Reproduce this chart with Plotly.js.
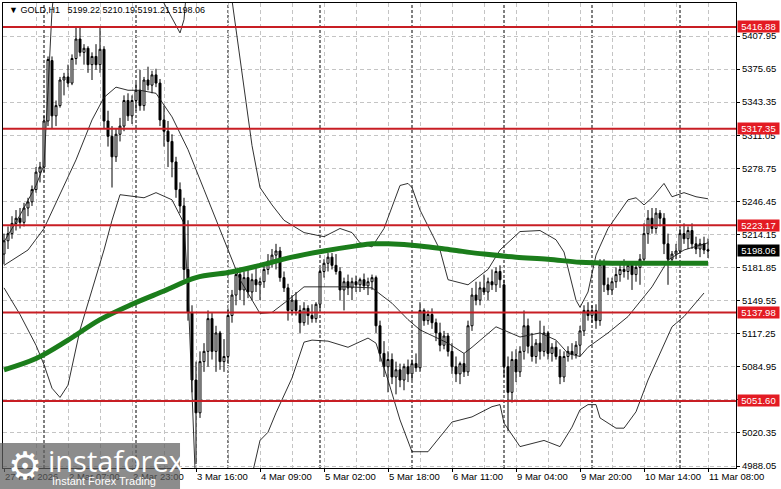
<!DOCTYPE html>
<html><head><meta charset="utf-8">
<script src="https://cdn.plot.ly/plotly-3.0.1.min.js"></script>
<style>html,body{margin:0;padding:0;background:#fff}#chart{width:781px;height:489px}</style>
</head><body><div id="chart"></div>
<script>
// ---- candle data (GOLD, H1), one entry per bar ----
const openP = [5195,5208,5215,5225,5230,5226,5240,5246,5258,5275,5280,5325,5384,5330,5340,5365,5368,5362,5386,5405,
5392,5396,5380,5388,5380,5395,5325,5310,5290,5312,5320,5345,5330,5345,5355,5340,5365,5360,5370,5362,
5326,5315,5305,5285,5258,5242,5180,5138,5072,5040,5090,5100,5132,5100,5118,5090,5095,5135,5155,5175,
5160,5172,5158,5170,5165,5168,5180,5188,5194,5198,5172,5162,5140,5150,5140,5128,5142,5135,5132,5146,
5178,5186,5192,5184,5178,5160,5168,5162,5168,5165,5170,5164,5168,5172,5125,5098,5085,5092,5075,5082,
5072,5085,5078,5088,5084,5140,5130,5136,5128,5118,5106,5115,5100,5085,5078,5088,5080,5125,5155,5150,
5162,5158,5168,5165,5178,5165,5085,5060,5092,5080,5100,5125,5105,5095,5108,5100,5118,5098,5104,5095,
5075,5095,5100,5097,5106,5120,5140,5135,5140,5130,5185,5165,5160,5168,5175,5180,5178,5184,5175,5182,
5190,5215,5230,5220,5235,5230,5205,5190,5195,5198,5215,5210,5218,5205,5200,5205,5199.22];
const highP = [5215,5222,5232,5238,5240,5245,5250,5262,5280,5285,5330,5388,5388,5345,5368,5372,5380,5390,5417,5416,
5400,5398,5392,5400,5417,5398,5335,5320,5318,5328,5350,5352,5350,5362,5375,5368,5378,5374,5376,5366,
5340,5325,5312,5290,5265,5250,5228,5145,5090,5100,5108,5140,5138,5125,5120,5112,5142,5160,5180,5182,
5178,5180,5176,5182,5172,5185,5195,5200,5205,5202,5178,5166,5155,5158,5145,5148,5145,5146,5148,5182,
5190,5196,5196,5195,5182,5172,5175,5172,5174,5172,5176,5172,5175,5174,5130,5110,5100,5098,5090,5088,
5088,5092,5092,5098,5148,5142,5140,5142,5132,5128,5120,5118,5108,5095,5090,5098,5130,5162,5168,5168,
5175,5172,5180,5182,5184,5170,5095,5100,5102,5105,5140,5132,5118,5112,5130,5125,5120,5108,5110,5102,
5100,5105,5108,5110,5125,5145,5148,5145,5146,5190,5190,5172,5172,5182,5185,5190,5188,5188,5185,5195,
5225,5238,5240,5240,5238,5235,5215,5198,5205,5220,5225,5222,5225,5212,5210,5212,5210.19];
const lowP = [5185,5200,5210,5218,5220,5222,5232,5242,5255,5265,5275,5320,5318,5320,5338,5350,5358,5360,5380,5388,
5380,5372,5365,5375,5372,5318,5300,5260,5285,5305,5315,5325,5322,5335,5335,5335,5355,5352,5358,5320,
5300,5280,5270,5250,5235,5170,5130,5060,4990,5035,5080,5085,5092,5080,5082,5080,5088,5128,5145,5150,
5145,5152,5150,5158,5150,5162,5175,5182,5180,5168,5158,5130,5135,5135,5118,5125,5126,5128,5128,5140,
5172,5178,5180,5175,5150,5140,5155,5150,5158,5158,5160,5155,5160,5118,5090,5075,5060,5068,5058,5065,
5062,5070,5072,5080,5080,5125,5126,5122,5110,5100,5102,5095,5078,5070,5068,5075,5076,5120,5145,5145,
5155,5150,5160,5158,5162,5075,5022,5050,5070,5075,5092,5098,5090,5088,5092,5095,5092,5090,5092,5068,
5070,5090,5092,5093,5095,5115,5130,5128,5122,5125,5158,5155,5155,5162,5168,5172,5170,5160,5168,5165,
5185,5205,5215,5215,5222,5195,5165,5185,5190,5195,5205,5200,5200,5195,5192,5195,5191.21];
const closeP = [5208,5215,5225,5230,5226,5240,5246,5258,5275,5280,5325,5385,5330,5340,5365,5368,5362,5386,5405,5392,
5396,5380,5388,5380,5395,5325,5310,5290,5312,5320,5345,5330,5345,5355,5340,5365,5360,5370,5362,5326,
5315,5305,5285,5258,5242,5180,5138,5072,5040,5090,5100,5132,5100,5118,5090,5095,5135,5155,5175,5160,
5172,5158,5170,5165,5168,5180,5188,5194,5198,5172,5162,5140,5150,5140,5128,5142,5135,5132,5146,5178,
5186,5192,5184,5178,5160,5168,5162,5168,5165,5170,5164,5168,5172,5125,5098,5085,5092,5075,5082,5072,
5085,5078,5088,5084,5140,5130,5136,5128,5118,5106,5115,5100,5085,5078,5088,5080,5125,5155,5150,5162,
5158,5168,5165,5178,5170,5085,5060,5092,5080,5100,5125,5105,5095,5108,5100,5118,5098,5104,5095,5075,
5095,5100,5097,5106,5120,5140,5135,5140,5130,5185,5165,5160,5168,5175,5180,5178,5184,5175,5182,5190,
5215,5230,5220,5235,5230,5205,5190,5195,5198,5215,5210,5218,5205,5200,5205,5199,5198.06];

const bbUpperIdx = [0,4,8,10,11,12,13,20,30,39,40,42,44,45,46,50,55,57,58,60,62,64,67,70,75,80,84,87,89,92,95,97,99,101,102,104,109,111,116,121,124,129,134,138,140,143,144,146,148,151,156,158,160,162,165,167,170,173,176];
const bbUpper =    [5207,5233,5262,5282,5355,5433,5470,5500,5500,5455,5440,5425,5411,5424,5470,5520,5480,5443,5414,5355,5301,5260,5243,5228,5216,5212,5220,5216,5206,5202,5220,5241,5262,5264,5260,5238,5199,5170,5165,5180,5199,5217,5218,5209,5197,5150,5143,5158,5194,5220,5248,5250,5243,5250,5264,5251,5255,5251,5249];
const bbMidIdx = [0,6,10,14,18,22,25,28,31,34,38,42,46,50,54,59,64,67,71,75,86,92,97,101,104,111,115,117,123,129,134,138,141,144,146,151,156,162,166,170,176];
const bbMid =    [5184,5199,5220,5253,5287,5326,5348,5358,5355,5355,5352,5329,5297,5258,5219,5170,5137,5138,5150,5163,5163,5162,5147,5131,5121,5108,5098,5104,5124,5114,5118,5111,5098,5095,5104,5118,5134,5163,5189,5199,5206];
const bbLowerIdx = [0,4,8,10,12,14,16,19,22,25,27,29,35,38,42,45,46,47,48,55,62,64,66,68,70,72,75,77,81,86,91,93,96,99,102,106,112,117,122,124,125,129,135,139,142,144,146,148,149,153,155,158,161,167,170,175];
const bbLower =    [5162,5136,5106,5087,5064,5055,5067,5121,5160,5199,5228,5253,5250,5255,5248,5225,5160,5072,4960,4930,4979,5013,5021,5040,5057,5074,5109,5111,5110,5104,5113,5108,5072,5033,5002,5002,5031,5036,5046,5048,5030,5007,5013,5007,5026,5043,5048,5048,5035,5025,5025,5041,5072,5124,5134,5157];

// ---- moving average (green) ----
const maIdx = [0,8,16,24,32,40,48,56,64,72,80,88,92,96,104,112,120,128,136,144,152,160,168,176];
const maVal = [5082,5093,5111,5131,5146,5159,5172,5177,5184,5192,5198,5203,5205,5205,5203,5199,5195,5192,5190,5187,5186,5186,5186,5186];

// ---- levels, ticks, labels ----
const levels = [5416.88, 5317.35, 5223.17, 5137.98, 5051.60];
const priceTicks = [5407.95,5375.65,5343.35,5311.05,5278.75,5246.45,5214.15,5181.85,5149.55,5117.25,5084.95,5052.65,5020.35,4988.05];
const timeLabelIdx = [0,16,32,48,64,80,96,112,128,144,160,176];
const timeLabels = ["27 Feb 2026","2 Mar 07:00","2 Mar 23:00","3 Mar 16:00","4 Mar 09:00","5 Mar 02:00","5 Mar 18:00","6 Mar 11:00","9 Mar 04:00","9 Mar 20:00","10 Mar 14:00","11 Mar 08:00"];
const daySepIdx = [10,33,56,79,102,125,147,169];
const headerText = "\u25BC GOLD,H1\u00a0\u00a0 5199.22 5210.19 5191.21 5198.06";
const lastPrice = 5198.06;

const bars = openP.map((_, i) => i);
const FONT = "Liberation Sans, Arial, sans-serif";

const traces = [
  {type:'candlestick', x:bars, open:openP, high:highP, low:lowP, close:closeP,
   increasing:{line:{color:'#000', width:1}, fillcolor:'#ffffff'},
   decreasing:{line:{color:'#000', width:1}, fillcolor:'#000000'},
   whiskerwidth:0, hoverinfo:'skip', showlegend:false},
  {type:'scatter', mode:'lines', x:bbUpperIdx, y:bbUpper, line:{color:'#1a1a1a', width:0.9}, hoverinfo:'skip', showlegend:false},
  {type:'scatter', mode:'lines', x:bbMidIdx, y:bbMid, line:{color:'#1a1a1a', width:0.9}, hoverinfo:'skip', showlegend:false},
  {type:'scatter', mode:'lines', x:bbLowerIdx, y:bbLower, line:{color:'#1a1a1a', width:0.9}, hoverinfo:'skip', showlegend:false},
  {type:'scatter', mode:'lines', x:maIdx, y:maVal, line:{color:'#1b7d1b', width:5, shape:'spline'}, hoverinfo:'skip', showlegend:false}
];

const shapes = [];
daySepIdx.forEach(d => shapes.push({type:'line', xref:'x', yref:'paper', x0:d, x1:d, y0:0, y1:1,
  line:{color:'#000', width:1, dash:'3px,2px'}, layer:'below'}));
levels.forEach(v => shapes.push({type:'line', xref:'paper', yref:'y', x0:0, x1:1, y0:v, y1:v,
  line:{color:'#c81e24', width:2}, layer:'above'}));
// logo plate
shapes.push({type:'rect', xref:'paper', yref:'paper', x0:-0.006, x1:0.2415, y0:-0.046, y1:0.054,
  fillcolor:'rgba(95,95,95,0.72)', line:{width:0}, layer:'above'});

const annotations = [];
annotations.push({xref:'paper', yref:'paper', x:0.0055, y:0.985, xanchor:'left', yanchor:'middle',
  text:headerText, showarrow:false, font:{family:FONT, size:9, color:'#000'}});
levels.forEach(v => annotations.push({xref:'paper', yref:'y', x:1, xshift:1, y:v, xanchor:'left', yanchor:'middle',
  text:v.toFixed(2), showarrow:false, bgcolor:'#e31b23', borderpad:0, width:41,
  font:{family:FONT, size:9.5, color:'#fff'}}));
annotations.push({xref:'paper', yref:'y', x:1, xshift:1, y:lastPrice, xanchor:'left', yanchor:'middle',
  text:lastPrice.toFixed(2), showarrow:false, bgcolor:'#000', borderpad:0, width:41,
  font:{family:FONT, size:9.5, color:'#fff'}});
// logo texts
annotations.push({xref:'paper', yref:'paper', x:0.004, y:0.004, xanchor:'left', yanchor:'middle',
  text:'\u2699', showarrow:false, font:{family:'DejaVu Sans', size:38, color:'#fff'}});
annotations.push({xref:'paper', yref:'paper', x:0.058, y:0.016, xanchor:'left', yanchor:'middle',
  text:'instaforex', showarrow:false, font:{family:'Open Sans', size:29, color:'#fff'}});
annotations.push({xref:'paper', yref:'paper', x:0.064, y:-0.028, xanchor:'left', yanchor:'middle',
  text:'Instant Forex Trading', showarrow:false, font:{family:FONT, size:11, color:'#fff'}});

const layout = {
  width:781, height:489,
  margin:{l:3, r:45, t:3, b:21, pad:0},
  paper_bgcolor:'#fff', plot_bgcolor:'#fff',
  showlegend:false, hovermode:false, dragmode:false,
  xaxis:{range:[-0.25, 183], showline:true, mirror:true, linecolor:'#000', linewidth:1,
    tickmode:'array', tickvals:timeLabelIdx, ticktext:timeLabels, ticks:'outside', ticklen:3, tickcolor:'#000',
    ticklabelposition:'outside right', tickangle:0, automargin:false,
    showgrid:true, gridcolor:'#c4c4c4', griddash:'4px,3px', gridwidth:1,
    minor:{dtick:8, tick0:0, showgrid:true, gridcolor:'#c4c4c4', griddash:'4px,3px', ticks:''},
    tickfont:{family:FONT, size:9.5, color:'#000'}, zeroline:false, fixedrange:true,
    rangeslider:{visible:false}},
  yaxis:{range:[4986.1, 5440.2], side:'right', showline:true, mirror:true, linecolor:'#000', linewidth:1,
    tickmode:'array', tickvals:priceTicks, ticktext:priceTicks.map(v=>v.toFixed(2)),
    ticks:'outside', ticklen:3, tickcolor:'#000', automargin:false,
    showgrid:true, gridcolor:'#c4c4c4', griddash:'4px,3px', gridwidth:1,
    tickfont:{family:FONT, size:9.5, color:'#000'}, zeroline:false, fixedrange:true},
  shapes:shapes, annotations:annotations
};

Plotly.newPlot('chart', traces, layout, {staticPlot:true, displayModeBar:false});
</script>
</body></html>
